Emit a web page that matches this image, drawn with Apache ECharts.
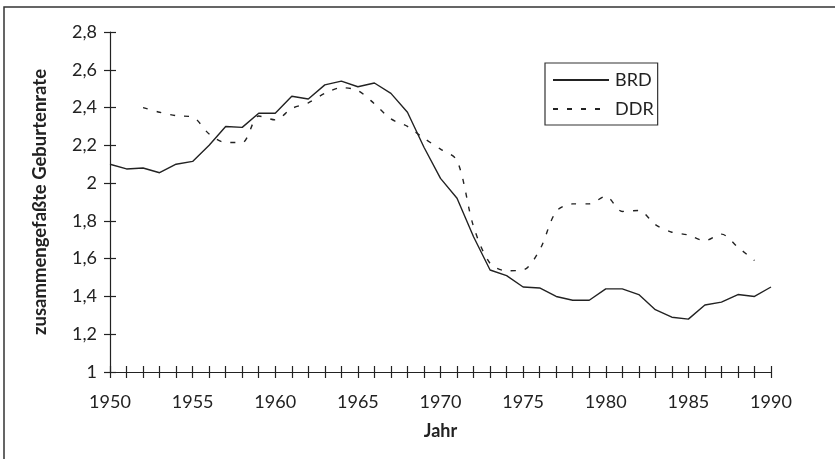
<!DOCTYPE html>
<html>
<head>
<meta charset="utf-8">
<script src="https://cdn.jsdelivr.net/npm/echarts@6/dist/echarts.min.js"></script>
<style>
  html, body { margin: 0; padding: 0; background: #fff; }
  #chart { width: 835px; height: 459px; }
</style>
</head>
<body>
<div id="chart"></div>
<script>
  // Jahre 1950..1990
  var years = [];
  for (var y = 1950; y <= 1990; y++) years.push(y);

  var brd = [2.10, 2.075, 2.08, 2.055, 2.10, 2.115, 2.20, 2.30, 2.295, 2.37,
             2.37, 2.46, 2.445, 2.52, 2.54, 2.51, 2.53, 2.475, 2.375, 2.19,
             2.025, 1.92, 1.716, 1.54, 1.51, 1.45, 1.445, 1.40, 1.38, 1.38,
             1.44, 1.44, 1.41, 1.33, 1.29, 1.28, 1.355, 1.37, 1.41, 1.40,
             1.45];

  // DDR: Werte 1952..1989
  var ddr = [null, null, 2.40, 2.375, 2.357, 2.35, 2.26, 2.215, 2.215, 2.355,
             2.335, 2.395, 2.425, 2.475, 2.505, 2.49, 2.42, 2.34, 2.30, 2.237,
             2.18, 2.12, 1.77, 1.575, 1.536, 1.54, 1.646, 1.85, 1.89, 1.89,
             1.93, 1.85, 1.855, 1.78, 1.74, 1.725, 1.695, 1.73, 1.66, 1.59,
             null];

  function pairs(vals) {
    return years.map(function (yr, i) { return [yr, vals[i]]; });
  }

  var font = 'Lato, "DejaVu Sans", sans-serif';
  var ink = '#222';

  var chart = echarts.init(document.getElementById('chart'));
  chart.setOption({
    animation: false,
    backgroundColor: '#fff',
    grid: { left: 110, right: 64, top: 32, bottom: 87 },
    graphic: [{
      type: 'rect',
      shape: { x: 4, y: 7, width: 840, height: 460 },
      style: { fill: 'none', stroke: '#333', lineWidth: 1.5 },
      silent: true
    }],
    legend: {
      left: 545, top: 63,
      orient: 'vertical',
      data: ['BRD', 'DDR'],
      itemWidth: 56, itemHeight: 14, itemGap: 11,
      padding: [8, 4, 7, 7],
      borderColor: '#333', borderWidth: 1.2,
      itemStyle: { opacity: 0 },
      textStyle: { fontFamily: font, fontSize: 18, color: ink, padding: [0, 0, 0, 1] }
    },
    xAxis: [{
      type: 'value', min: 1950, max: 1990, interval: 1,
      name: 'Jahr', nameLocation: 'middle', nameGap: 50,
      nameTextStyle: { fontFamily: font, fontSize: 18, fontWeight: 'bold', color: ink },
      axisLine: { lineStyle: { color: ink, width: 1.2 } },
      axisTick: { length: 6, lineStyle: { color: ink, width: 1.2 } },
      splitLine: { show: false },
      axisLabel: {
        margin: 21, fontFamily: font, fontSize: 18, color: ink,
        formatter: function (v) { return v % 5 === 0 ? String(v) : ''; }
      }
    }, {
      type: 'value', min: 1950, max: 1990, interval: 1, position: 'bottom',
      axisLine: { show: false },
      axisTick: { inside: true, length: 6, lineStyle: { color: ink, width: 1.2 } },
      axisLabel: { show: false }, splitLine: { show: false }
    }],
    yAxis: [{
      type: 'value', min: 1, max: 2.8, interval: 0.2,
      name: 'zusammengefaßte Geburtenrate', nameLocation: 'middle', nameGap: 60,
      nameTextStyle: { fontFamily: font, fontSize: 18.5, fontWeight: 'bold', color: ink },
      axisLine: { show: true, lineStyle: { color: ink, width: 1.2 } },
      axisTick: { show: true, length: 6, lineStyle: { color: ink, width: 1.2 } },
      splitLine: { show: false },
      axisLabel: {
        margin: 13, fontFamily: font, fontSize: 18, color: ink,
        formatter: function (v) { return String(Math.round(v * 10) / 10).replace('.', ','); }
      }
    }, {
      type: 'value', min: 1, max: 2.8, interval: 0.2, position: 'left',
      axisLine: { show: false },
      axisTick: { show: true, inside: true, length: 6, lineStyle: { color: ink, width: 1.2 } },
      axisLabel: { show: false }, splitLine: { show: false }
    }],
    series: [{
      name: 'BRD', type: 'line', data: pairs(brd),
      symbol: 'none', showSymbol: false,
      lineStyle: { color: ink, width: 1.4 },
      itemStyle: { color: ink }
    }, {
      name: 'DDR', type: 'line', data: pairs(ddr),
      symbol: 'none', showSymbol: false, smooth: 0.3, connectNulls: false,
      lineStyle: { color: ink, width: 1.4, type: [5, 9] },
      itemStyle: { color: ink }
    }]
  });
</script>
</body>
</html>
